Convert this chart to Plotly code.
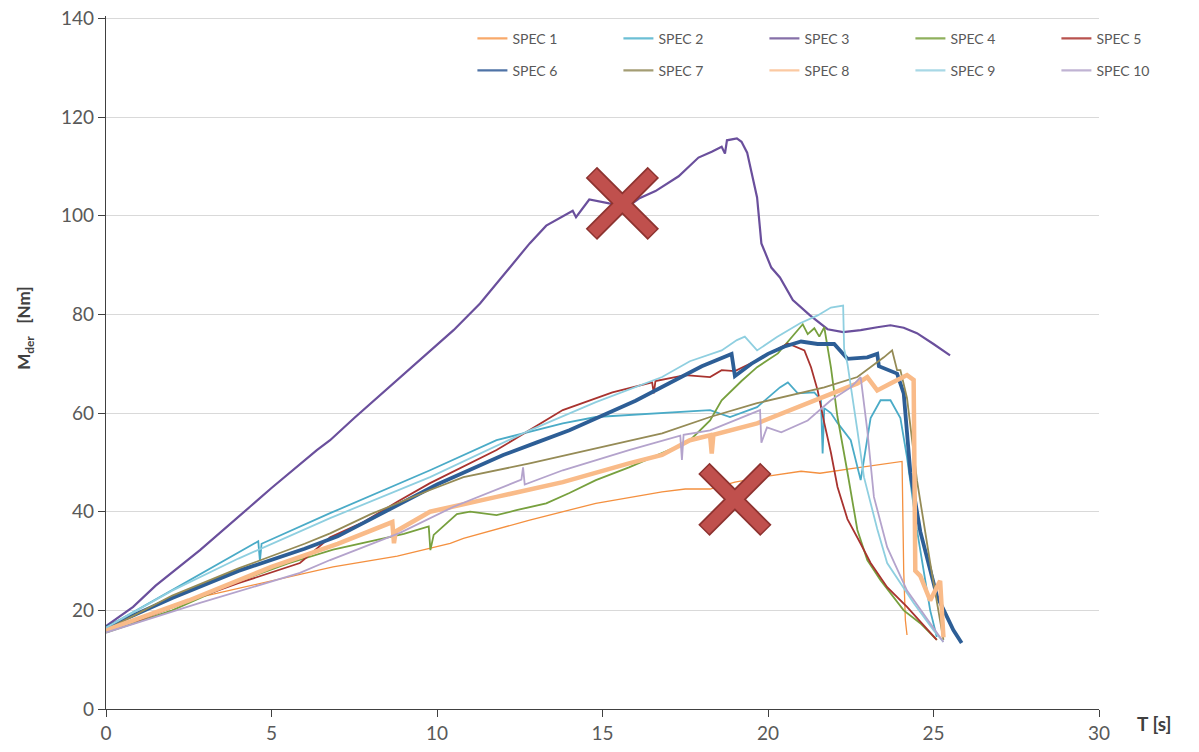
import plotly.graph_objects as go

# ---------------- data ----------------
spec1_t = [0, 1, 2.84, 4, 5.35, 6.86, 8.8, 10.4, 10.8, 12.8, 14.8, 16.8, 17.5, 18.25, 19, 20, 21, 21.57, 22.57, 23.2, 24.05, 24.1, 24.15, 24.2]
spec1_m = [16, 18.2, 22.7, 24.5, 26.5, 28.8, 31, 33.6, 34.6, 38.3, 41.7, 44, 44.6, 44.6, 46, 47.2, 48.2, 47.8, 48.8, 49.4, 50.2, 28, 18, 15]

spec2_t = [0, 1.84, 4.6, 4.65, 4.7, 6.77, 9.79, 11.8, 13.8, 14.8, 15.8, 16.8, 18.25, 18.85, 19.67, 20.36, 20.6, 20.9, 21.4, 21.6, 21.65, 21.7, 21.9, 22.1, 22.5, 22.8, 23.1, 23.4, 23.7, 24.0, 24.2, 24.5, 24.9, 25.1]
spec2_m = [16.5, 23.5, 34, 30, 33.5, 39.7, 48.4, 54.5, 57.9, 59.2, 59.6, 60, 60.6, 59.2, 61.2, 65.2, 66.2, 64, 64.2, 62.6, 51.8, 61, 60, 58, 54.5, 46.4, 59, 62.6, 62.6, 59, 51, 36.3, 20, 14.6]

spec3_t = [0, 0.82, 1.5, 2.84, 4.35, 5, 6.37, 6.77, 7.5, 8.5, 9.79, 10.5, 11.3, 12.3, 12.8, 13.3, 14.1, 14.2, 14.6, 15.2, 15.8, 16.1, 16.6, 17.3, 17.9, 18.3, 18.6, 18.7, 18.76, 19.06, 19.2, 19.37, 19.67, 19.8, 20.1, 20.36, 20.75, 21.27, 21.8, 22.27, 22.8, 23.3, 23.7, 24.1, 24.5, 25.0, 25.5]
spec3_m = [16.8, 20.7, 25, 32.2, 41, 44.8, 52.5, 54.5, 59, 65, 72.7, 76.8, 82.2, 90.3, 94.4, 98, 101, 99.7, 103.3, 102.5, 102, 103.5, 105, 108, 111.8, 113, 114, 112.6, 115.3, 115.7, 115, 112.8, 103.7, 94.4, 89.5, 87.5, 82.9, 79.8, 77, 76.4, 76.8, 77.4, 77.8, 77.3, 76.2, 74, 71.7]

spec4_t = [0, 2, 3.85, 5.5, 6.86, 8, 9.0, 9.75, 9.8, 9.9, 10.4, 10.6, 11, 11.8, 12.4, 13.3, 14, 14.8, 15.8, 16.8, 17.6, 18.25, 18.6, 19.2, 19.67, 20.3, 20.9, 21.05, 21.2, 21.4, 21.55, 21.7, 21.9, 22.1, 22.4, 22.7, 23, 23.4, 24.1, 24.6, 25.1]
spec4_m = [15.5, 20, 25.5, 29.5, 32.3, 34, 35.5, 37, 32.2, 35.3, 38.3, 39.5, 40, 39.3, 40.3, 41.7, 43.8, 46.4, 49, 51.9, 54.2, 58.5, 62.6, 66.5, 69.3, 72.1, 76.8, 78, 76, 77.2, 75.5, 77.4, 69.3, 59.2, 48, 36.3, 30.2, 26.1, 20, 17.4, 14]

spec5_t = [0, 1, 2.84, 4, 5.86, 6.77, 7.78, 8.8, 9.79, 11.8, 13.8, 15.3, 16.5, 16.55, 16.6, 17.5, 18.25, 18.6, 19, 19.67, 20.6, 21.1, 21.3, 21.5, 21.7, 21.9, 22.1, 22.4, 22.8, 23.1, 23.6, 24.2, 25.1]
spec5_m = [16.5, 18, 22.7, 25.5, 29.6, 34.8, 37.9, 42, 45.8, 52.5, 60.6, 64.2, 66.2, 64, 66.5, 67.7, 67.3, 68.7, 68.5, 70.7, 74.1, 72.7, 69.3, 64.6, 58, 52, 45, 38.5, 33.5, 29.6, 24.7, 20.7, 14]

spec6_t = [0, 2, 4, 6, 7, 8, 9, 10, 11, 12, 13, 14, 15, 16, 17, 18, 18.9, 19.0, 19.5, 20, 20.5, 21, 21.5, 22, 22.4, 23, 23.3, 23.35, 23.9, 24.1, 24.3, 24.6, 25.1, 25.6, 25.85]
spec6_m = [16.5, 22.5, 28, 32.5, 35, 38.5, 42, 45.5, 48.5, 51.5, 54, 56.5, 59.5, 62.5, 66, 69.5, 72, 67.5, 70, 72, 73.5, 74.5, 74, 74, 71, 71.3, 72, 69.5, 68, 64, 48, 36, 23, 16, 13.4]

spec7_t = [0, 2, 4, 6, 6.77, 8, 9.79, 10.8, 12.8, 14.8, 16.8, 18.25, 19.67, 21.7, 22.7, 23.5, 23.75, 23.9, 24.0, 24.2, 24.5, 24.9, 25.3]
spec7_m = [16, 23, 28.5, 33.5, 35.6, 39.5, 44.4, 47, 49.8, 52.9, 55.9, 59.2, 62, 65.2, 67.3, 71.3, 72.7, 68.7, 68.7, 63, 46.4, 29.6, 14]

spec8_t = [0, 2.5, 5, 7, 8.65, 8.7, 8.75, 9.79, 11.8, 13.8, 15.8, 16.8, 17.64, 18.25, 18.3, 18.35, 19.67, 20.7, 21.7, 22.7, 23, 23.3, 23.7, 24.2, 24.4, 24.45, 24.6, 24.9, 25.2, 25.3]
spec8_m = [16, 22, 28.8, 33.5, 37.9, 33.6, 36, 40, 43, 46, 49.8, 51.5, 54.5, 55.5, 51.8, 55.6, 57.9, 60.6, 63.2, 66, 67.3, 64.6, 66, 67.7, 66.7, 28, 27, 22, 26, 14.5]

spec9_t = [0, 2, 4, 6.77, 9.79, 12.8, 14.8, 16.8, 17.64, 18.25, 18.6, 19.06, 19.3, 19.67, 20.27, 20.97, 21.5, 21.9, 22.27, 22.3, 22.4, 22.7, 22.9, 23.3, 23.6, 24.4, 25, 25.3]
spec9_m = [16.5, 24, 30.5, 38.7, 47, 56.5, 62.2, 67.3, 70.5, 72, 72.7, 74.8, 75.5, 72.7, 75.4, 78.2, 79.8, 81.4, 81.8, 73, 70, 56.5, 47, 36.5, 29.6, 21.5, 16, 13.6]

spec10_t = [0, 2.84, 5.86, 6.77, 8.88, 10.5, 12.55, 12.6, 12.65, 13.8, 15.8, 17.35, 17.4, 17.45, 18.25, 19.76, 19.8, 19.97, 20.4, 21.2, 21.9, 22.5, 22.8, 23, 23.2, 23.6, 24.2, 24.9, 25.3]
spec10_m = [15.5, 21.5, 27.6, 30.2, 35.7, 41, 46.5, 49, 45.5, 48.4, 52.5, 55.4, 50.5, 55.6, 56.5, 60.6, 54, 57.1, 56.1, 58.5, 62.6, 65.2, 67.3, 56.5, 43, 32.8, 24, 17.4, 13.6]

mark_t = [15.6, 19.0]
mark_m = [102.5, 42.5]

names = ["SPEC 1", "SPEC 2", "SPEC 3", "SPEC 4", "SPEC 5",
         "SPEC 6", "SPEC 7", "SPEC 8", "SPEC 9", "SPEC 10"]
series_t = [spec1_t, spec2_t, spec3_t, spec4_t, spec5_t, spec6_t, spec7_t, spec8_t, spec9_t, spec10_t]
series_m = [spec1_m, spec2_m, spec3_m, spec4_m, spec5_m, spec6_m, spec7_m, spec8_m, spec9_m, spec10_m]

x_ticks = [0, 5, 10, 15, 20, 25, 30]
y_ticks = [0, 20, 40, 60, 80, 100, 120, 140]

# ---------------- styles ----------------
colors = ["#f4903f", "#4aabc7", "#6a4f9c", "#77a03e", "#a8332f",
          "#2d5e96", "#958b56", "#f9bb89", "#8fcfe0", "#b4a3cc"]
legend_colors = ["#f8a96a", "#6cbfd5", "#8670a8", "#8fb05d", "#b8524e",
                 "#4f73a6", "#a49d74", "#fbc9a2", "#a8d8e6", "#c0b3d3"]
widths = [1.3, 1.8, 2.2, 1.8, 1.8, 3.8, 1.8, 4.5, 1.8, 1.8]
font_family = "Lato, 'Open Sans', sans-serif"

fig = go.Figure()

for i in range(10):
    fig.add_trace(go.Scatter(
        x=series_t[i], y=series_m[i], mode="lines", name=names[i],
        line=dict(color=colors[i], width=widths[i]),
        legendgroup=names[i], showlegend=False, hoverinfo="x+y+name"))

# legend-only entries (uniform line samples, two rows)
for i in range(10):
    fig.add_trace(go.Scatter(
        x=[None], y=[None], mode="lines", name=names[i],
        line=dict(color=legend_colors[i], width=2.2),
        legendgroup=names[i], showlegend=True,
        legend="legend" if i < 5 else "legend2"))

# red X marks
fig.add_trace(go.Scatter(
    x=mark_t, y=mark_m, mode="markers", showlegend=False, hoverinfo="skip",
    marker=dict(symbol="x-thin", size=62, color="#8d3330",
                line=dict(width=16, color="#8d3330"))))
fig.add_trace(go.Scatter(
    x=mark_t, y=mark_m, mode="markers", showlegend=False, hoverinfo="skip",
    marker=dict(symbol="x-thin", size=60, color="#c0504d",
                line=dict(width=12.5, color="#c0504d"))))

legend_common = dict(
    orientation="h", xanchor="left", yanchor="middle",
    font=dict(family=font_family, size=14, color="#595959"),
    bgcolor="rgba(0,0,0,0)", entrywidth=101, entrywidthmode="pixels",
    itemwidth=30, tracegroupgap=0)

fig.update_layout(
    width=1199, height=752,
    margin=dict(l=106, r=100, t=15.5, b=43, autoexpand=False),
    paper_bgcolor="white", plot_bgcolor="white",
    font=dict(family=font_family, color="#595959"),
    legend=dict(x=0.369, y=0.967, **legend_common),
    legend2=dict(x=0.369, y=0.921, **legend_common),
    xaxis=dict(range=[0, 30], tickvals=x_ticks, showgrid=False, zeroline=False,
               showline=True, linecolor="#404040", linewidth=1.3,
               ticks="outside", ticklen=7, tickcolor="#404040", automargin=False,
               tickfont=dict(size=19, color="#595959", family=font_family)),
    yaxis=dict(range=[0, 140.5], tickvals=y_ticks, showgrid=True,
               gridcolor="#d9d9d9", gridwidth=1.3, zeroline=False,
               showline=True, linecolor="#404040", linewidth=1.3,
               ticks="outside", ticklen=7, tickcolor="#404040", automargin=False,
               tickfont=dict(size=19, color="#595959", family=font_family)),
    annotations=[
        dict(text="<b>M<sub>der</sub>   [Nm]</b>", xref="paper", yref="paper",
             x=-0.0816, y=0.55, xanchor="center", yanchor="middle",
             textangle=-90, showarrow=False,
             font=dict(size=17, color="#404040", family=font_family)),
        dict(text="<b>T [s]</b>", xref="paper", yref="paper",
             x=1.056, y=-0.0203, xanchor="center", yanchor="middle",
             showarrow=False,
             font=dict(size=19, color="#404040", family=font_family)),
    ],
)

fig.write_html("out.html",
               config={"displayModeBar": False},
               post_script="document.body.style.margin='0';document.body.style.overflow='hidden';")
